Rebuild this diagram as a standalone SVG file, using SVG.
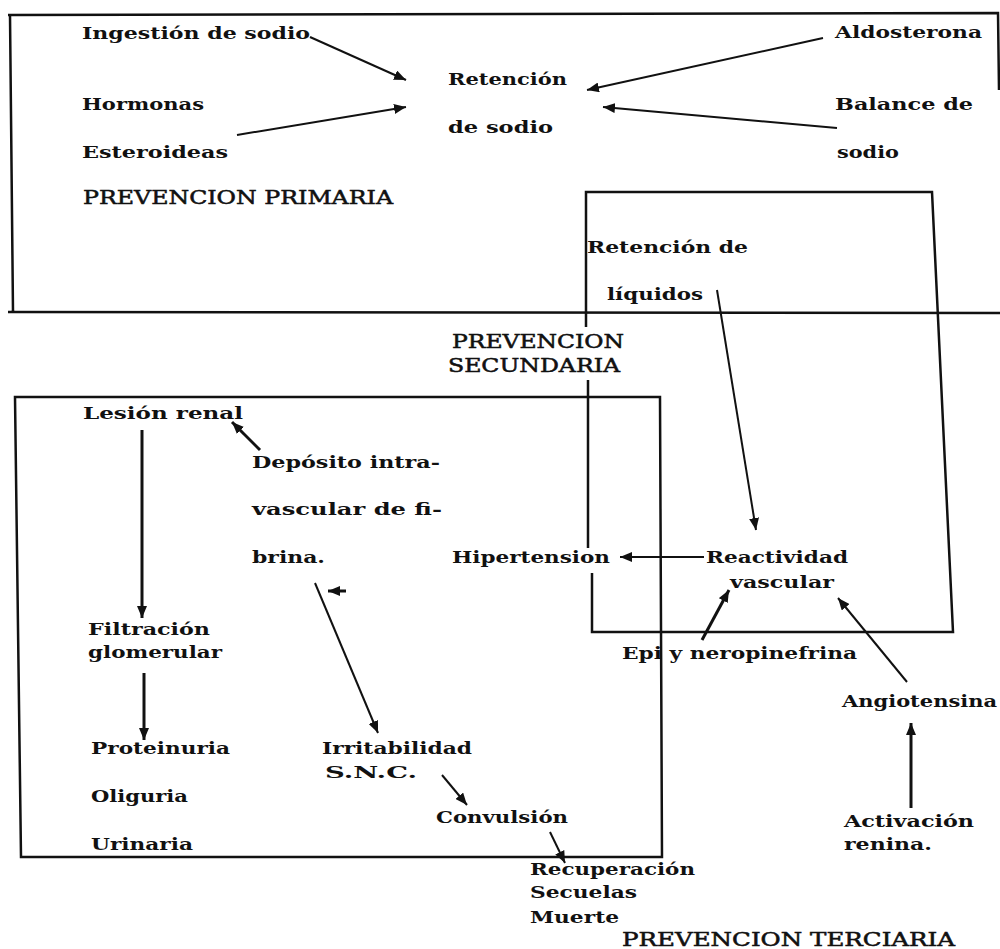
<svg xmlns="http://www.w3.org/2000/svg" width="1000" height="949" viewBox="0 0 1000 949">
<defs>
<style>
.t{font-family:"DejaVu Serif","Liberation Serif",serif;font-weight:bold;font-size:17.5px;fill:#111}
.p{font-family:"DejaVu Serif","Liberation Serif",serif;font-weight:normal;font-size:18px;fill:#111;stroke:#111;stroke-width:0.5}
.box{fill:none;stroke:#111;stroke-width:2.5}
.c{stroke:#111;stroke-width:2;fill:none;marker-end:url(#ah)}
.ct{stroke:#111;stroke-width:3;fill:none;marker-end:url(#ah)}
</style>
<marker id="ah" viewBox="0 0 12 10" refX="12" refY="5" markerWidth="12" markerHeight="10" markerUnits="userSpaceOnUse" orient="auto">
<path d="M0,0 L12,5 L0,10 z" fill="#111"/>
</marker>
</defs>
<rect width="1000" height="949" fill="#fff"/>
<g id="boxes">
<path class="box" d="M8,15 L998,13 L999,90 M10,15 L13,312 M8,312 L1000,313"/>
<path class="box" d="M586,327 L586,192 L932,192 L953,632 L592,632 L592,573 M588,380 L588,548"/>
<path class="box" d="M15,397 L660,397 L662,857 L21,857 Z"/>
</g>
<g id="connectors">
<line class="c" x1="310" y1="37" x2="406" y2="80"/>
<line class="c" x1="237" y1="135" x2="406" y2="107"/>
<line class="c" x1="823" y1="38" x2="587" y2="90"/>
<line class="c" x1="837" y1="128" x2="603" y2="107"/>
<line class="c" x1="717" y1="290" x2="756" y2="530"/>
<line class="c" x1="704" y1="557" x2="620" y2="557"/>
<line class="ct" x1="702" y1="640" x2="729" y2="590"/>
<line class="c" x1="907" y1="682" x2="838" y2="598"/>
<line class="ct" x1="911" y1="808" x2="911" y2="723"/>
<line class="ct" x1="260" y1="450" x2="232" y2="422"/>
<line class="ct" x1="142" y1="430" x2="142" y2="618"/>
<line class="ct" x1="144" y1="673" x2="144" y2="740"/>
<line class="c" x1="315" y1="583" x2="378" y2="733"/>
<line class="ct" x1="346" y1="591" x2="328" y2="591"/>
<line class="c" x1="442" y1="775" x2="467" y2="805"/>
<line class="c" x1="550" y1="832" x2="565" y2="863"/>
</g>
<g id="n-ingestion"><text class="t" x="82" y="39" textLength="228" lengthAdjust="spacingAndGlyphs">Ingestión de sodio</text></g>
<g id="n-hormonas"><text class="t" x="82" y="110" textLength="122" lengthAdjust="spacingAndGlyphs">Hormonas</text>
<text class="t" x="82" y="158" textLength="146" lengthAdjust="spacingAndGlyphs">Esteroideas</text></g>
<g id="n-primaria"><text class="p" x="83" y="204" textLength="310" lengthAdjust="spacingAndGlyphs">PREVENCION PRIMARIA</text></g>
<g id="n-retencion-sodio"><text class="t" x="448" y="85" textLength="119" lengthAdjust="spacingAndGlyphs">Retención</text>
<text class="t" x="448" y="133" textLength="105" lengthAdjust="spacingAndGlyphs">de sodio</text></g>
<g id="n-aldosterona"><text class="t" x="835" y="38" textLength="147" lengthAdjust="spacingAndGlyphs">Aldosterona</text></g>
<g id="n-balance"><text class="t" x="835" y="110" textLength="138" lengthAdjust="spacingAndGlyphs">Balance de</text>
<text class="t" x="837" y="158" textLength="62" lengthAdjust="spacingAndGlyphs">sodio</text></g>
<g id="n-retencion-liquidos"><text class="t" x="587" y="253" textLength="161" lengthAdjust="spacingAndGlyphs">Retención de</text>
<text class="t" x="607" y="300" textLength="96" lengthAdjust="spacingAndGlyphs">líquidos</text></g>
<g id="n-secundaria"><text class="p" x="452" y="348" textLength="172" lengthAdjust="spacingAndGlyphs">PREVENCION</text>
<text class="p" x="448" y="372" textLength="172" lengthAdjust="spacingAndGlyphs">SECUNDARIA</text></g>
<g id="n-lesion"><text class="t" x="83" y="419" textLength="160" lengthAdjust="spacingAndGlyphs">Lesión renal</text></g>
<g id="n-deposito"><text class="t" x="252" y="468" textLength="188" lengthAdjust="spacingAndGlyphs">Depósito intra-</text>
<text class="t" x="252" y="515" textLength="190" lengthAdjust="spacingAndGlyphs">vascular de fi-</text>
<text class="t" x="252" y="563" textLength="73" lengthAdjust="spacingAndGlyphs">brina.</text></g>
<g id="n-hipertension"><text class="t" x="452" y="563" textLength="158" lengthAdjust="spacingAndGlyphs">Hipertension</text></g>
<g id="n-reactividad"><text class="t" x="706" y="563" textLength="142" lengthAdjust="spacingAndGlyphs">Reactividad</text>
<text class="t" x="730" y="588" textLength="104" lengthAdjust="spacingAndGlyphs">vascular</text></g>
<g id="n-filtracion"><text class="t" x="88" y="635" textLength="122" lengthAdjust="spacingAndGlyphs">Filtración</text>
<text class="t" x="88" y="658" textLength="134" lengthAdjust="spacingAndGlyphs">glomerular</text></g>
<g id="n-epi"><text class="t" x="622" y="659" textLength="235" lengthAdjust="spacingAndGlyphs">Epi y neropinefrina</text></g>
<g id="n-angiotensina"><text class="t" x="842" y="707" textLength="155" lengthAdjust="spacingAndGlyphs">Angiotensina</text></g>
<g id="n-proteinuria"><text class="t" x="91" y="754" textLength="139" lengthAdjust="spacingAndGlyphs">Proteinuria</text>
<text class="t" x="91" y="802" textLength="97" lengthAdjust="spacingAndGlyphs">Oliguria</text>
<text class="t" x="91" y="850" textLength="102" lengthAdjust="spacingAndGlyphs">Urinaria</text></g>
<g id="n-irritabilidad"><text class="t" x="322" y="754" textLength="150" lengthAdjust="spacingAndGlyphs">Irritabilidad</text>
<text class="t" x="325" y="778" textLength="92" lengthAdjust="spacingAndGlyphs">S.N.C.</text></g>
<g id="n-convulsion"><text class="t" x="436" y="823" textLength="132" lengthAdjust="spacingAndGlyphs">Convulsión</text></g>
<g id="n-activacion"><text class="t" x="844" y="827" textLength="130" lengthAdjust="spacingAndGlyphs">Activación</text>
<text class="t" x="844" y="850" textLength="88" lengthAdjust="spacingAndGlyphs">renina.</text></g>
<g id="n-recuperacion"><text class="t" x="530" y="875" textLength="165" lengthAdjust="spacingAndGlyphs">Recuperación</text>
<text class="t" x="530" y="898" textLength="107" lengthAdjust="spacingAndGlyphs">Secuelas</text>
<text class="t" x="530" y="923" textLength="89" lengthAdjust="spacingAndGlyphs">Muerte</text></g>
<g id="n-terciaria"><text class="p" x="622" y="946" textLength="333" lengthAdjust="spacingAndGlyphs">PREVENCION TERCIARIA</text></g>
</svg>
